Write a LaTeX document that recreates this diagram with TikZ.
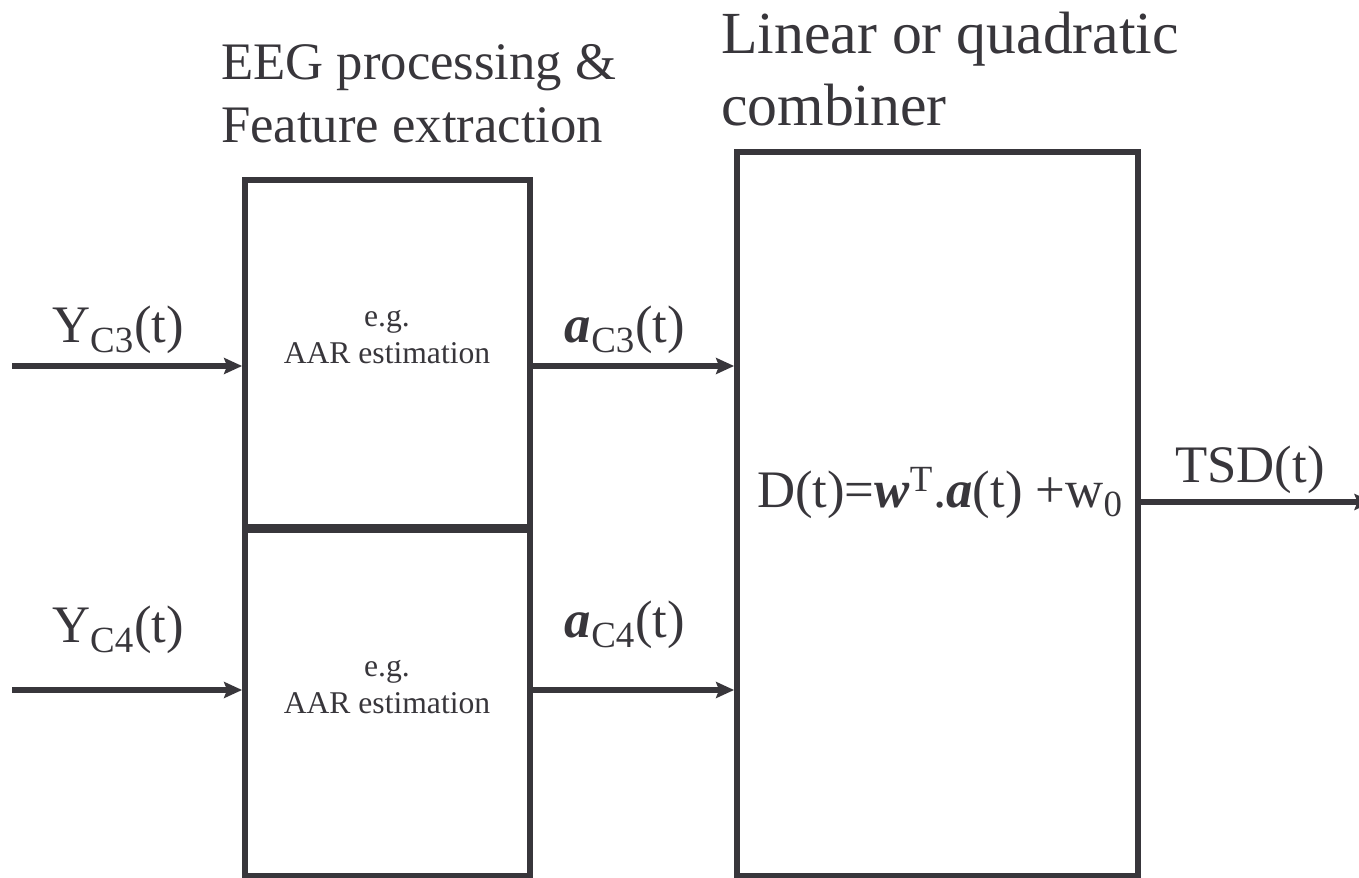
\documentclass[tikz,border=0pt]{standalone}
\usepackage{fontspec}
\setmainfont{Liberation Serif}
\usepackage{tikz}
\usetikzlibrary{positioning, arrows.meta, calc}
\definecolor{grisfonce}{RGB}{56, 54, 59}

\tikzset{
  bloc/.style={draw=grisfonce, line width=3.3pt, inner sep=0pt},
  fleche/.style={draw=grisfonce, line width=3.1pt, -{Stealth[length=0.36cm, width=0.32cm, inset=0.06cm]}},
  signal/.style={text=grisfonce, font=\fontsize{30}{36}\selectfont},
  petit/.style={text=grisfonce, align=center, font=\fontsize{18}{21}\selectfont}
}

\begin{document}
\begin{tikzpicture}
    \useasboundingbox (0,0) rectangle (27.18,17.54);
    % blocs
    \node[bloc, minimum width=5.7cm, minimum height=6.94cm] (feat1) at (7.75,10.47) {};
    \node[bloc, minimum width=5.7cm, minimum height=6.92cm] (feat2) at (7.75,3.48) {};
    \node[bloc, minimum width=8.02cm, minimum height=14.48cm] (comb) at (18.75,7.26) {};
    % titres
    \node[text=grisfonce, anchor=west, align=left, font=\fontsize{30}{36}\selectfont] (titre1) at (4.3,15.67)
        {EEG processing \&\\Feature extraction};
    \node[text=grisfonce, anchor=west, align=left, font=\fontsize{34}{41}\selectfont] (titre2) at (14.3,16.15)
        {Linear or quadratic\\combiner};
    % textes dans les blocs
    \node[petit] (aar1) at (7.74,10.8) {e.g.\\AAR estimation};
    \node[petit] (aar2) at (7.74,3.8) {e.g.\\AAR estimation};
    \node[signal] (formule) at (18.8,7.68)
        {D(t)=\textbf{\textit{w}}\textsuperscript{T}.\textbf{\textit{a}}(t) +w\textsubscript{0}};
    % entrees
    \coordinate (entC3) at (0.24,10.22);
    \coordinate (entC4) at (0.24,3.74);
    \draw[fleche] (entC3) -- (entC3 -| feat1.west);
    \draw[fleche] (entC4) -- (entC4 -| feat2.west);
    \node[signal] (yC3) at (2.36,10.94) {Y\textsubscript{C3}(t)};
    \node[signal] (yC4) at (2.36,4.94) {Y\textsubscript{C4}(t)};
    % caracteristiques
    \draw[fleche] (entC3 -| feat1.east) -- (entC3 -| comb.west);
    \draw[fleche] (entC4 -| feat2.east) -- (entC4 -| comb.west);
    \node[signal] (aC3) at (12.5,10.94) {\textbf{\textit{a}}\textsubscript{C3}(t)};
    \node[signal] (aC4) at (12.5,5.04) {\textbf{\textit{a}}\textsubscript{C4}(t)};
    % sortie
    \coordinate (sortie) at (27.45,7.5);
    \draw[fleche] (sortie -| comb.east) -- (sortie);
    \node[signal] (tsd) at (25.0,8.14) {TSD(t)};
\end{tikzpicture}
\end{document}
